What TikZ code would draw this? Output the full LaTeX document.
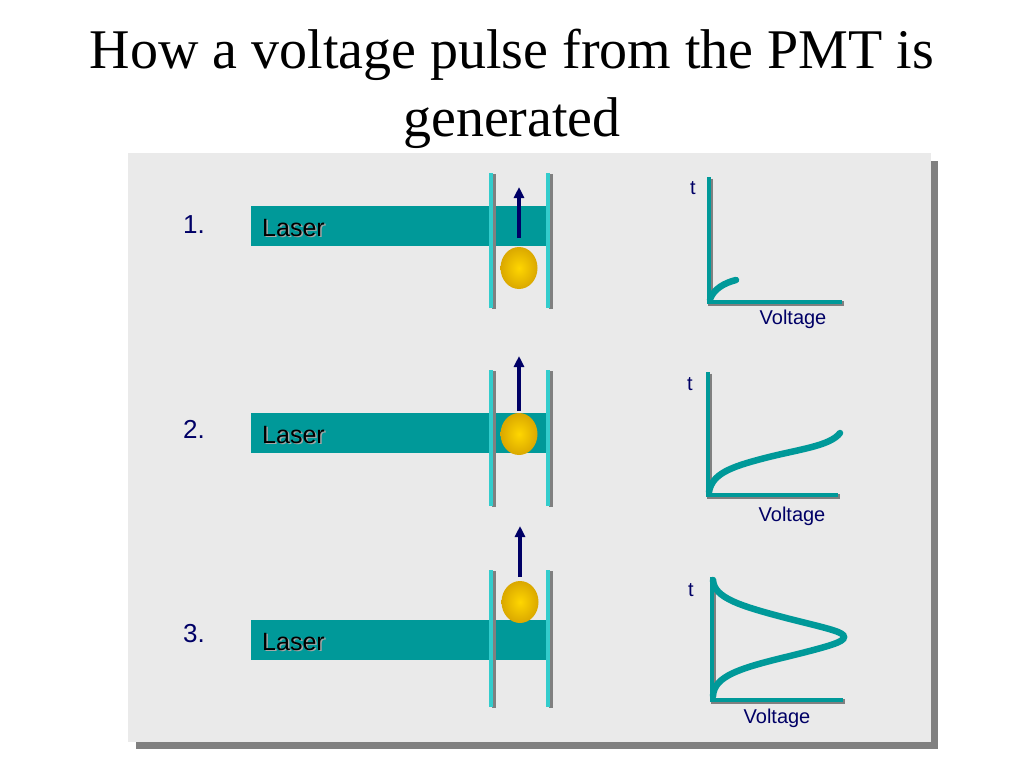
\documentclass[tikz,border=0pt]{standalone}
\usepackage{fontspec}
\setmainfont{Liberation Serif}
\newfontfamily\arialf{Liberation Sans}
\usetikzlibrary{arrows.meta,shapes.geometric}
\definecolor{panelbg}{RGB}{234,234,234}
\definecolor{shadowgrey}{RGB}{128,128,128}
\definecolor{teal1}{RGB}{0,153,153}
\definecolor{plate}{RGB}{51,204,204}
\definecolor{navy1}{RGB}{0,0,102}
\definecolor{goldin}{RGB}{255,214,0}
\definecolor{goldout}{RGB}{218,168,0}
\tikzset{
  laserbar/.style={fill=teal1, draw=none},
  lasertext/.style={font=\arialf\fontsize{25}{28}\selectfont, anchor=west, inner sep=0pt},
  platesh/.style={draw=shadowgrey, line width=4pt},
  platefg/.style={draw=plate, line width=3.6pt},
  ball/.style={ellipse, minimum width=37pt, minimum height=42pt, inner sep=0pt, draw=none, inner color=goldin, outer color=goldout},
  photon/.style={draw=navy1, line width=3.4pt, -{Triangle[width=10pt,length=11pt]}},
  numlabel/.style={font=\arialf\fontsize{26}{28}\selectfont, text=navy1, inner sep=0pt},
  axlabel/.style={font=\arialf\fontsize{20}{22}\selectfont, text=navy1, inner sep=0pt},
  axsh/.style={draw=shadowgrey, line width=4.5pt},
  axfg/.style={draw=teal1, line width=4.5pt},
  curve/.style={draw=teal1, line width=6.5pt, line cap=round}
}
\begin{document}
\begin{tikzpicture}[x=1pt,y=-1pt]
\useasboundingbox (0,0) rectangle (1024,768);
\fill[white] (0,0) rectangle (1024,768);
% title
\node[align=center, font=\fontsize{56}{68}\selectfont, inner sep=0pt] (title) at (512,89) {How a voltage pulse from the PMT is\\generated};
% panel
\fill[shadowgrey] (136,161) rectangle (938,749);
\fill[panelbg] (128,153) rectangle (931,742);

% ---------- row 1 ----------
\node[numlabel] (n1) at (194,225) {1.};
\path[laserbar] (251,206) rectangle (547,246);
\node[lasertext] (l1s) at (263.5,229.5) {\textcolor{shadowgrey!70}{Laser}};
\node[lasertext] (l1) at (262,228) {Laser};
\draw[platesh] (493.5,174) -- (493.5,309);
\draw[platefg] (491,173) -- (491,308);
\draw[platesh] (550.5,174) -- (550.5,309);
\draw[platefg] (548,173) -- (548,308);
\node[ball] (b1) at (519,268) {};
\coordinate (a1s) at (519,238);
\coordinate (a1e) at (519,187);
\draw[photon] (a1s) -- (a1e);
% graph 1
\coordinate (o1) at (709,302);
\coordinate (y1) at (709,177);
\coordinate (x1) at (842,302);
\draw[axsh] ([shift={(1.5,1.5)}]y1) -- ([shift={(1.5,1.5)}]o1) -- ([shift={(1.5,1.5)}]x1);
\draw[axfg] (y1) -- (o1) -- (x1);
\draw[curve] (710,299) .. controls (714,289) and (724,283) .. (736,280);
\node[axlabel] (t1) at (693,188) {t};
\node[axlabel] (v1) at (793,319) {Voltage};

% ---------- row 2 ----------
\node[numlabel] (n2) at (194,429) {2.};
\path[laserbar] (251,413) rectangle (547,453);
\node[lasertext] (l2s) at (263.5,436.5) {\textcolor{shadowgrey!70}{Laser}};
\node[lasertext] (l2) at (262,435) {Laser};
\draw[platesh] (493.5,371) -- (493.5,507);
\draw[platefg] (491,370) -- (491,506);
\draw[platesh] (550.5,371) -- (550.5,507);
\draw[platefg] (548,370) -- (548,506);
\node[ball] (b2) at (519,434) {};
\coordinate (a2s) at (519,411);
\coordinate (a2e) at (519,356);
\draw[photon] (a2s) -- (a2e);
% graph 2
\coordinate (o2) at (708,495);
\coordinate (y2) at (708,372);
\coordinate (x2) at (838,495);
\draw[axsh] ([shift={(1.5,1.5)}]y2) -- ([shift={(1.5,1.5)}]o2) -- ([shift={(1.5,1.5)}]x2);
\draw[axfg] (y2) -- (o2) -- (x2);
\draw[curve] (709,492) .. controls (712,474) and (730,467) .. (765,458)
  .. controls (800,449) and (830,446) .. (840,433);
\node[axlabel] (t2) at (690,384) {t};
\node[axlabel] (v2) at (792,516) {Voltage};

% ---------- row 3 ----------
\node[numlabel] (n3) at (194,634) {3.};
\path[laserbar] (251,620) rectangle (546,660);
\node[lasertext] (l3s) at (263.5,643.5) {\textcolor{shadowgrey!70}{Laser}};
\node[lasertext] (l3) at (262,642) {Laser};
\draw[platesh] (493.5,571) -- (493.5,708);
\draw[platefg] (491,570) -- (491,707);
\draw[platesh] (550.5,571) -- (550.5,708);
\draw[platefg] (548,570) -- (548,707);
\node[ball] (b3) at (520,602) {};
\coordinate (a3s) at (520,577);
\coordinate (a3e) at (520,526);
\draw[photon] (a3s) -- (a3e);
% graph 3
\coordinate (o3) at (712,700);
\coordinate (y3) at (712,577);
\coordinate (x3) at (843,700);
\draw[axsh] ([shift={(1.5,1.5)}]y3) -- ([shift={(1.5,1.5)}]o3) -- ([shift={(1.5,1.5)}]x3);
\draw[axfg] (y3) -- (o3) -- (x3);
\draw[curve] (713,580) .. controls (714,598) and (740,606) .. (790,619)
  .. controls (830,629) and (844,632) .. (844,637)
  .. controls (844,642) and (830,646) .. (790,656)
  .. controls (740,668) and (714,676) .. (713,696);
\node[axlabel] (t3) at (691,590) {t};
\node[axlabel] (v3) at (777,718) {Voltage};
\end{tikzpicture}
\end{document}
